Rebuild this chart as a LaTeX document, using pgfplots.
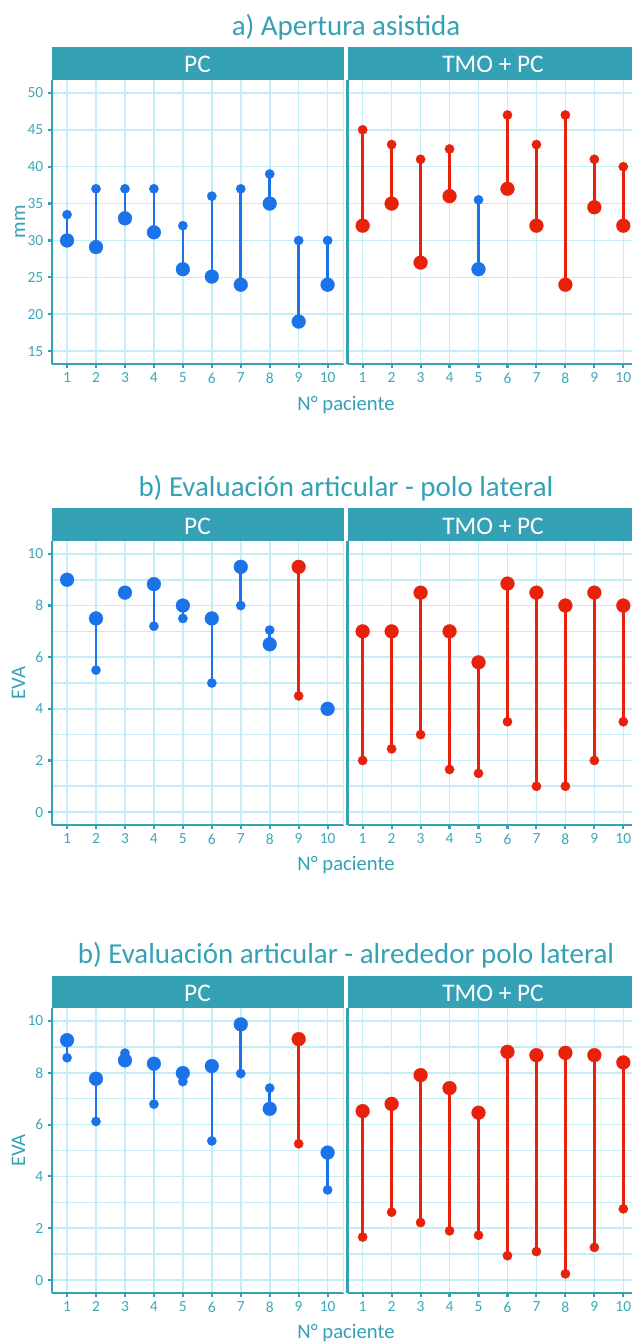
\documentclass[border=0pt]{standalone}
\usepackage{fontspec}
\setmainfont{Carlito}
\usepackage{pgfplots}
\pgfplotsset{compat=1.18}
\definecolor{teal1}{RGB}{52,161,181}
\definecolor{tickc}{RGB}{62,166,186}
\definecolor{gridc}{RGB}{196,238,245}
\definecolor{cblue}{RGB}{26,115,232}
\definecolor{cred}{RGB}{232,34,10}
\pgfplotsset{
 panel/.style={
   scale only axis,
   xmin=0.48,
   axis x line*=bottom, axis y line*=left,
   axis line style={teal1, line width=1.8pt, -},
   xtick={1,...,10},
   xmajorgrids, ymajorgrids,
   major grid style={gridc, line width=1.2pt},
   minor grid style={gridc, line width=1.2pt},
   tick style={teal1, line width=1.6pt},
   major tick length=3pt, minor tick length=0pt,
   tick align=outside,
   ticklabel style={font=\fontsize{11.6}{12}\selectfont, text=tickc},
   /pgf/number format/assume math mode=true,
   unbounded coords=jump,
 },
 leftp/.style={panel, at={(39pt,#1)}, anchor=north west, width=219pt, xmax=10.566},
 rightp/.style={panel, at={(260.7pt,#1)}, anchor=north west, width=213.3pt, xmax=10.30,
   yticklabels={}, ytick style={draw=none}},
 row1/.style={height=213pt, ymin=13.25, ymax=51.75, ytick={15,20,...,50}},
 row23/.style={height=#1, ymin=-0.5, ymax=10.5, ytick={0,2,...,10},
   minor ytick={1,3,...,9}, yminorgrids},
 seg/.style={line width=1.9pt, no markers, color=#1},
 sm/.style={only marks, mark=*, mark size=3.5pt, color=#1, mark options={fill=#1, draw=#1, line width=0.2pt}},
 bg/.style={only marks, mark=*, mark size=5.2pt, color=#1, mark options={fill=#1, draw=#1, line width=0.2pt}},
}
\newcommand{\rborder}{\draw[gridc, line width=1.2pt] (rel axis cs:1,0) -- (rel axis cs:1,1);}
\begin{document}
\begin{tikzpicture}
\useasboundingbox (0,0) rectangle (474pt,-1006.5pt);

% ---------------- Row 1 ----------------
\begin{axis}[leftp=-60pt, row1]
\rborder
\addplot[seg=cblue] coordinates {(1,33.5)(1,30)(1,nan)(2,37)(2,29.1)(2,nan)(3,37)(3,33)(3,nan)(4,37)(4,31.1)(4,nan)(5,32)(5,26.1)(5,nan)(6,36)(6,25.1)(6,nan)(7,37)(7,24)(7,nan)(8,39)(8,35)(8,nan)(9,30)(9,19)(9,nan)(10,30)(10,24)};
\addplot[sm=cblue] coordinates {(1,33.5)(2,37)(3,37)(4,37)(5,32)(6,36)(7,37)(8,39)(9,30)(10,30)};
\addplot[bg=cblue] coordinates {(1,30)(2,29.1)(3,33)(4,31.1)(5,26.1)(6,25.1)(7,24)(8,35)(9,19)(10,24)};
\end{axis}
\begin{axis}[rightp=-60pt, row1]
\addplot[seg=cred] coordinates {(1,45)(1,32)(1,nan)(2,43)(2,35)(2,nan)(3,41)(3,27)(3,nan)(4,42.4)(4,36)(4,nan)(6,47)(6,37)(6,nan)(7,43)(7,32)(7,nan)(8,47)(8,24)(8,nan)(9,41)(9,34.5)(9,nan)(10,40)(10,32)};
\addplot[seg=cblue] coordinates {(5,35.5)(5,26.1)};
\addplot[sm=cred] coordinates {(1,45)(2,43)(3,41)(4,42.4)(6,47)(7,43)(8,47)(9,41)(10,40)};
\addplot[sm=cblue] coordinates {(5,35.5)};
\addplot[bg=cred] coordinates {(1,32)(2,35)(3,27)(4,36)(6,37)(7,32)(8,24)(9,34.5)(10,32)};
\addplot[bg=cblue] coordinates {(5,26.1)};
\end{axis}

% ---------------- Row 2 ----------------
\begin{axis}[leftp=-405.75pt, row23=213pt]
\rborder
\addplot[seg=cblue] coordinates {(2,5.5)(2,7.5)(2,nan)(4,7.2)(4,8.83)(4,nan)(5,7.5)(5,8)(5,nan)(6,5)(6,7.5)(6,nan)(7,8)(7,9.5)(7,nan)(8,7.05)(8,6.5)};
\addplot[seg=cred] coordinates {(9,4.5)(9,9.5)};
\addplot[sm=cblue] coordinates {(1,9)(2,5.5)(3,8.5)(4,7.2)(5,7.5)(6,5)(7,8)(8,7.05)(10,4)};
\addplot[sm=cred] coordinates {(9,4.5)};
\addplot[bg=cblue] coordinates {(1,9)(2,7.5)(3,8.5)(4,8.83)(5,8)(6,7.5)(7,9.5)(8,6.5)(10,4)};
\addplot[bg=cred] coordinates {(9,9.5)};
\end{axis}
\begin{axis}[rightp=-405.75pt, row23=213pt]
\addplot[seg=cred] coordinates {(1,2)(1,7)(1,nan)(2,2.45)(2,7)(2,nan)(3,3)(3,8.5)(3,nan)(4,1.65)(4,7)(4,nan)(5,1.5)(5,5.8)(5,nan)(6,3.5)(6,8.85)(6,nan)(7,1)(7,8.5)(7,nan)(8,1)(8,8)(8,nan)(9,2)(9,8.5)(9,nan)(10,3.5)(10,8)};
\addplot[sm=cred] coordinates {(1,2)(2,2.45)(3,3)(4,1.65)(5,1.5)(6,3.5)(7,1)(8,1)(9,2)(10,3.5)};
\addplot[bg=cred] coordinates {(1,7)(2,7)(3,8.5)(4,7)(5,5.8)(6,8.85)(7,8.5)(8,8)(9,8.5)(10,8)};
\end{axis}

% ---------------- Row 3 ----------------
\begin{axis}[leftp=-756pt, row23=213.75pt]
\rborder
\addplot[seg=cblue] coordinates {(1,8.58)(1,9.26)(1,nan)(2,6.12)(2,7.77)(2,nan)(3,8.76)(3,8.48)(3,nan)(4,6.79)(4,8.35)(4,nan)(5,7.66)(5,7.99)(5,nan)(6,5.37)(6,8.26)(6,nan)(7,7.97)(7,9.87)(7,nan)(8,7.41)(8,6.61)(8,nan)(10,3.48)(10,4.92)};
\addplot[seg=cred] coordinates {(9,5.26)(9,9.30)};
\addplot[sm=cblue] coordinates {(1,8.58)(2,6.12)(3,8.76)(4,6.79)(5,7.66)(6,5.37)(7,7.97)(8,7.41)(10,3.48)};
\addplot[sm=cred] coordinates {(9,5.26)};
\addplot[bg=cblue] coordinates {(1,9.26)(2,7.77)(3,8.48)(4,8.35)(5,7.99)(6,8.26)(7,9.87)(8,6.61)(10,4.92)};
\addplot[bg=cred] coordinates {(9,9.30)};
\end{axis}
\begin{axis}[rightp=-756pt, row23=213.75pt]
\addplot[seg=cred] coordinates {(1,1.66)(1,6.52)(1,nan)(2,2.62)(2,6.80)(2,nan)(3,2.22)(3,7.91)(3,nan)(4,1.90)(4,7.41)(4,nan)(5,1.73)(5,6.46)(5,nan)(6,0.94)(6,8.81)(6,nan)(7,1.10)(7,8.68)(7,nan)(8,0.24)(8,8.77)(8,nan)(9,1.26)(9,8.68)(9,nan)(10,2.75)(10,8.40)};
\addplot[sm=cred] coordinates {(1,1.66)(2,2.62)(3,2.22)(4,1.90)(5,1.73)(6,0.94)(7,1.10)(8,0.24)(9,1.26)(10,2.75)};
\addplot[bg=cred] coordinates {(1,6.52)(2,6.80)(3,7.91)(4,7.41)(5,6.46)(6,8.81)(7,8.68)(8,8.77)(9,8.68)(10,8.40)};
\end{axis}

% ---------------- strips, titles, labels ----------------
\foreach \yt/\yb in {-35/-60, -381/-405.75, -731.8/-756} {
  \fill[teal1] (39pt,\yt pt) rectangle (258pt,\yb pt);
  \fill[teal1] (260.7pt,\yt pt) rectangle (474pt,\yb pt);
}
\foreach \yb in {-54.5, -400.5, -751.3} {
  \node[anchor=base, text=white, font=\fontsize{19}{22}\selectfont, inner sep=0pt] at (148.1pt,\yb pt) {PC};
  \node[anchor=base, text=white, font=\fontsize{19}{22}\selectfont, inner sep=0pt] at (369.75pt,\yb pt) {TMO + PC};
}
\node[anchor=base, text=teal1, font=\fontsize{21.7}{25}\selectfont, inner sep=0pt] at (259.5pt,-26.25pt) {a) Apertura asistida};
\node[anchor=base, text=teal1, font=\fontsize{21.7}{25}\selectfont, inner sep=0pt] at (259.5pt,-372.5pt) {b) Evaluación articular - polo lateral};
\node[anchor=base, text=teal1, font=\fontsize{21.7}{25}\selectfont, inner sep=0pt] at (259.5pt,-722.5pt) {b) Evaluación articular - alrededor polo lateral};
\foreach \yb in {-307.5, -652.5, -1003.5} {
  \node[anchor=base, text=teal1, font=\fontsize{15.5}{18}\selectfont, inner sep=0pt] at (259.5pt,\yb pt) {N° paciente};
}
\node[anchor=base, rotate=90, text=teal1, font=\fontsize{15.5}{18}\selectfont, inner sep=0pt] at (18.75pt,-166.5pt) {mm};
\node[anchor=base, rotate=90, text=teal1, font=\fontsize{15.5}{18}\selectfont, inner sep=0pt] at (18.75pt,-512.25pt) {EVA};
\node[anchor=base, rotate=90, text=teal1, font=\fontsize{15.5}{18}\selectfont, inner sep=0pt] at (18.75pt,-862.9pt) {EVA};
\end{tikzpicture}
\end{document}
